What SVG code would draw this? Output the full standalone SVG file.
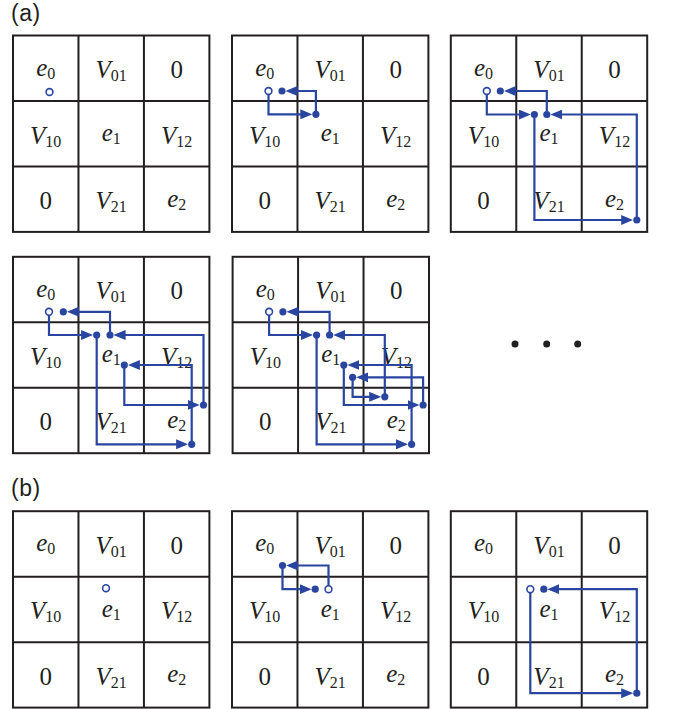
<svg xmlns="http://www.w3.org/2000/svg" xmlns:xlink="http://www.w3.org/1999/xlink" width="676" height="709" viewBox="0 0 676 709">
<style>
.frame{fill:#fff;stroke:#231f20;stroke-width:2}
.gl{stroke:#231f20;stroke-width:2;fill:none}
.lbl{font-family:"Liberation Serif",serif;font-size:25px;text-anchor:middle;fill:#231f20}
.it{font-style:italic}
.sub{font-size:16px;font-style:normal}
.cap{font-family:"Liberation Sans","Open Sans",sans-serif;font-size:23px;fill:#231f20;letter-spacing:0.5px}
.conn{stroke:#2945a0;stroke-width:2.2;fill:none;marker-end:url(#ah)}
.dot{fill:#2945a0}
.open{fill:#fff;stroke:#2945a0;stroke-width:1.6}
.ell{fill:#231f20}
</style>
<defs>
<marker id="ah" markerUnits="userSpaceOnUse" markerWidth="12" markerHeight="10" viewBox="0 0 12 10" refX="9" refY="5" orient="auto">
<path d="M0,0 L12,5 L0,10 z" fill="#2945a0"/>
</marker>
</defs>

<text class="cap" x="11" y="21">(a)</text>
<text class="cap" x="11" y="496">(b)</text>

<!-- Panel a1 -->
<g id="panel-a1" transform="translate(13,35.5)">
<g id="a1-cells">
<rect class="frame" x="0" y="0" width="196.4" height="196.4"/>
<path class="gl" d="M65.47,0V196.4M130.93,0V196.4M0,65.47H196.4M0,130.93H196.4"/>
<text class="lbl" x="32.7" y="40"><tspan class="it">e</tspan><tspan class="sub" dy="3">0</tspan></text>
<text class="lbl" x="98.2" y="42.5"><tspan class="it">V</tspan><tspan class="sub" dy="3">01</tspan></text>
<text class="lbl" x="163.7" y="42.5">0</text>
<text class="lbl" x="32.7" y="108"><tspan class="it">V</tspan><tspan class="sub" dy="3">10</tspan></text>
<text class="lbl" x="98.2" y="105.5"><tspan class="it">e</tspan><tspan class="sub" dy="3">1</tspan></text>
<text class="lbl" x="163.7" y="108"><tspan class="it">V</tspan><tspan class="sub" dy="3">12</tspan></text>
<text class="lbl" x="32.7" y="173.4">0</text>
<text class="lbl" x="98.2" y="173.4"><tspan class="it">V</tspan><tspan class="sub" dy="3">21</tspan></text>
<text class="lbl" x="163.7" y="171"><tspan class="it">e</tspan><tspan class="sub" dy="3">2</tspan></text>
</g>
<g id="a1-connectors">
<circle class="open" cx="36.5" cy="56.5" r="3.4"/>
</g>
</g>

<!-- Panel a2 -->
<g id="panel-a2" transform="translate(232,35.5)">
<g id="a2-cells">
<rect class="frame" x="0" y="0" width="196.4" height="196.4"/>
<path class="gl" d="M65.47,0V196.4M130.93,0V196.4M0,65.47H196.4M0,130.93H196.4"/>
<text class="lbl" x="32.7" y="40"><tspan class="it">e</tspan><tspan class="sub" dy="3">0</tspan></text>
<text class="lbl" x="98.2" y="42.5"><tspan class="it">V</tspan><tspan class="sub" dy="3">01</tspan></text>
<text class="lbl" x="163.7" y="42.5">0</text>
<text class="lbl" x="32.7" y="108"><tspan class="it">V</tspan><tspan class="sub" dy="3">10</tspan></text>
<text class="lbl" x="98.2" y="105.5"><tspan class="it">e</tspan><tspan class="sub" dy="3">1</tspan></text>
<text class="lbl" x="163.7" y="108"><tspan class="it">V</tspan><tspan class="sub" dy="3">12</tspan></text>
<text class="lbl" x="32.7" y="173.4">0</text>
<text class="lbl" x="98.2" y="173.4"><tspan class="it">V</tspan><tspan class="sub" dy="3">21</tspan></text>
<text class="lbl" x="163.7" y="171"><tspan class="it">e</tspan><tspan class="sub" dy="3">2</tspan></text>
</g>
<g id="a2-connectors">
<path class="conn" d="M36.5,55.5V78.8H77.3"/>
<path class="conn" d="M83.9,78.8V55.5H56.6"/>
<circle class="open" cx="36.5" cy="55.5" r="3.4"/>
<circle class="dot" cx="50" cy="55.5" r="3.6"/>
<circle class="dot" cx="83.9" cy="78.8" r="3.6"/>
</g>
</g>

<!-- Panel a3 -->
<g id="panel-a3" transform="translate(450.8,35.5)">
<g id="a3-cells">
<rect class="frame" x="0" y="0" width="196.4" height="196.4"/>
<path class="gl" d="M65.47,0V196.4M130.93,0V196.4M0,65.47H196.4M0,130.93H196.4"/>
<text class="lbl" x="32.7" y="40"><tspan class="it">e</tspan><tspan class="sub" dy="3">0</tspan></text>
<text class="lbl" x="98.2" y="42.5"><tspan class="it">V</tspan><tspan class="sub" dy="3">01</tspan></text>
<text class="lbl" x="163.7" y="42.5">0</text>
<text class="lbl" x="32.7" y="108"><tspan class="it">V</tspan><tspan class="sub" dy="3">10</tspan></text>
<text class="lbl" x="98.2" y="105.5"><tspan class="it">e</tspan><tspan class="sub" dy="3">1</tspan></text>
<text class="lbl" x="163.7" y="108"><tspan class="it">V</tspan><tspan class="sub" dy="3">12</tspan></text>
<text class="lbl" x="32.7" y="173.4">0</text>
<text class="lbl" x="98.2" y="173.4"><tspan class="it">V</tspan><tspan class="sub" dy="3">21</tspan></text>
<text class="lbl" x="163.7" y="171"><tspan class="it">e</tspan><tspan class="sub" dy="3">2</tspan></text>
</g>
<g id="a3-connectors">
<path class="conn" d="M36,55.5V79H77"/>
<path class="conn" d="M96,79V55.5H56.1"/>
<path class="conn" d="M83.6,79V184.5H179.4"/>
<path class="conn" d="M186,184.5V79H102.6"/>
<circle class="open" cx="36" cy="55.5" r="3.4"/>
<circle class="dot" cx="49.5" cy="55.5" r="3.6"/>
<circle class="dot" cx="83.6" cy="79" r="3.6"/>
<circle class="dot" cx="96" cy="79" r="3.6"/>
<circle class="dot" cx="186" cy="184.5" r="3.6"/>
</g>
</g>

<!-- Panel a4 -->
<g id="panel-a4" transform="translate(13,256.8)">
<g id="a4-cells">
<rect class="frame" x="0" y="0" width="196.4" height="196.4"/>
<path class="gl" d="M65.47,0V196.4M130.93,0V196.4M0,65.47H196.4M0,130.93H196.4"/>
<text class="lbl" x="32.7" y="40"><tspan class="it">e</tspan><tspan class="sub" dy="3">0</tspan></text>
<text class="lbl" x="98.2" y="42.5"><tspan class="it">V</tspan><tspan class="sub" dy="3">01</tspan></text>
<text class="lbl" x="163.7" y="42.5">0</text>
<text class="lbl" x="32.7" y="108"><tspan class="it">V</tspan><tspan class="sub" dy="3">10</tspan></text>
<text class="lbl" x="98.2" y="105.5"><tspan class="it">e</tspan><tspan class="sub" dy="3">1</tspan></text>
<text class="lbl" x="163.7" y="108"><tspan class="it">V</tspan><tspan class="sub" dy="3">12</tspan></text>
<text class="lbl" x="32.7" y="173.4">0</text>
<text class="lbl" x="98.2" y="173.4"><tspan class="it">V</tspan><tspan class="sub" dy="3">21</tspan></text>
<text class="lbl" x="163.7" y="171"><tspan class="it">e</tspan><tspan class="sub" dy="3">2</tspan></text>
</g>
<g id="a4-connectors">
<path class="conn" d="M36,55V78.2H77.1"/>
<path class="conn" d="M97,78.2V55H56.9"/>
<path class="conn" d="M83.7,78.2V187.5H172.1"/>
<path class="conn" d="M178.7,187.5V108.2H117.9"/>
<path class="conn" d="M111.3,108.2V148.2H183.7"/>
<path class="conn" d="M190.5,148.2V78.2H103.6"/>
<circle class="open" cx="36" cy="55" r="3.4"/>
<circle class="dot" cx="50.3" cy="55" r="3.6"/>
<circle class="dot" cx="83.7" cy="78.2" r="3.6"/>
<circle class="dot" cx="97" cy="78.2" r="3.6"/>
<circle class="dot" cx="111.3" cy="108.2" r="3.6"/>
<circle class="dot" cx="190.5" cy="148.2" r="3.6"/>
<circle class="dot" cx="178.7" cy="187.5" r="3.6"/>
</g>
</g>

<!-- Panel a5 -->
<g id="panel-a5" transform="translate(232.6,256.8)">
<g id="a5-cells">
<rect class="frame" x="0" y="0" width="196.4" height="196.4"/>
<path class="gl" d="M65.47,0V196.4M130.93,0V196.4M0,65.47H196.4M0,130.93H196.4"/>
<text class="lbl" x="32.7" y="40"><tspan class="it">e</tspan><tspan class="sub" dy="3">0</tspan></text>
<text class="lbl" x="98.2" y="42.5"><tspan class="it">V</tspan><tspan class="sub" dy="3">01</tspan></text>
<text class="lbl" x="163.7" y="42.5">0</text>
<text class="lbl" x="32.7" y="108"><tspan class="it">V</tspan><tspan class="sub" dy="3">10</tspan></text>
<text class="lbl" x="98.2" y="105.5"><tspan class="it">e</tspan><tspan class="sub" dy="3">1</tspan></text>
<text class="lbl" x="163.7" y="108"><tspan class="it">V</tspan><tspan class="sub" dy="3">12</tspan></text>
<text class="lbl" x="32.7" y="173.4">0</text>
<text class="lbl" x="98.2" y="173.4"><tspan class="it">V</tspan><tspan class="sub" dy="3">21</tspan></text>
<text class="lbl" x="163.7" y="171"><tspan class="it">e</tspan><tspan class="sub" dy="3">2</tspan></text>
</g>
<g id="a5-connectors">
<path class="conn" d="M36.5,55V78.2H77.4"/>
<path class="conn" d="M97,78.2V55H56.9"/>
<path class="conn" d="M84,78.2V187.5H172.4"/>
<path class="conn" d="M179,187.5V108.2H117.8"/>
<path class="conn" d="M111.2,108.2V148.2H183.9"/>
<path class="conn" d="M190.5,148.2V120.5H126.6"/>
<path class="conn" d="M120,120.5V140H145.6"/>
<path class="conn" d="M152.2,140V78.2H103.6"/>
<circle class="open" cx="36.5" cy="55" r="3.4"/>
<circle class="dot" cx="50.3" cy="55" r="3.6"/>
<circle class="dot" cx="84" cy="78.2" r="3.6"/>
<circle class="dot" cx="97" cy="78.2" r="3.6"/>
<circle class="dot" cx="111.2" cy="108.2" r="3.6"/>
<circle class="dot" cx="120" cy="120.5" r="3.6"/>
<circle class="dot" cx="152.2" cy="140" r="3.6"/>
<circle class="dot" cx="190.5" cy="148.2" r="3.6"/>
<circle class="dot" cx="179" cy="187.5" r="3.6"/>
</g>
</g>

<g id="ellipsis">
<circle class="ell" cx="515" cy="344" r="3.5"/>
<circle class="ell" cx="546.7" cy="344" r="3.5"/>
<circle class="ell" cx="577.7" cy="344" r="3.5"/>
</g>

<!-- Panel b1 -->
<g id="panel-b1" transform="translate(13,511.2)">
<g id="b1-cells">
<rect class="frame" x="0" y="0" width="196.4" height="196.4"/>
<path class="gl" d="M65.47,0V196.4M130.93,0V196.4M0,65.47H196.4M0,130.93H196.4"/>
<text class="lbl" x="32.7" y="40"><tspan class="it">e</tspan><tspan class="sub" dy="3">0</tspan></text>
<text class="lbl" x="98.2" y="42.5"><tspan class="it">V</tspan><tspan class="sub" dy="3">01</tspan></text>
<text class="lbl" x="163.7" y="42.5">0</text>
<text class="lbl" x="32.7" y="108"><tspan class="it">V</tspan><tspan class="sub" dy="3">10</tspan></text>
<text class="lbl" x="98.2" y="105.5"><tspan class="it">e</tspan><tspan class="sub" dy="3">1</tspan></text>
<text class="lbl" x="163.7" y="108"><tspan class="it">V</tspan><tspan class="sub" dy="3">12</tspan></text>
<text class="lbl" x="32.7" y="173.4">0</text>
<text class="lbl" x="98.2" y="173.4"><tspan class="it">V</tspan><tspan class="sub" dy="3">21</tspan></text>
<text class="lbl" x="163.7" y="171"><tspan class="it">e</tspan><tspan class="sub" dy="3">2</tspan></text>
</g>
<g id="b1-connectors">
<circle class="open" cx="93" cy="77" r="3.4"/>
</g>
</g>

<!-- Panel b2 -->
<g id="panel-b2" transform="translate(232,511.2)">
<g id="b2-cells">
<rect class="frame" x="0" y="0" width="196.4" height="196.4"/>
<path class="gl" d="M65.47,0V196.4M130.93,0V196.4M0,65.47H196.4M0,130.93H196.4"/>
<text class="lbl" x="32.7" y="40"><tspan class="it">e</tspan><tspan class="sub" dy="3">0</tspan></text>
<text class="lbl" x="98.2" y="42.5"><tspan class="it">V</tspan><tspan class="sub" dy="3">01</tspan></text>
<text class="lbl" x="163.7" y="42.5">0</text>
<text class="lbl" x="32.7" y="108"><tspan class="it">V</tspan><tspan class="sub" dy="3">10</tspan></text>
<text class="lbl" x="98.2" y="105.5"><tspan class="it">e</tspan><tspan class="sub" dy="3">1</tspan></text>
<text class="lbl" x="163.7" y="108"><tspan class="it">V</tspan><tspan class="sub" dy="3">12</tspan></text>
<text class="lbl" x="32.7" y="173.4">0</text>
<text class="lbl" x="98.2" y="173.4"><tspan class="it">V</tspan><tspan class="sub" dy="3">21</tspan></text>
<text class="lbl" x="163.7" y="171"><tspan class="it">e</tspan><tspan class="sub" dy="3">2</tspan></text>
</g>
<g id="b2-connectors">
<path class="conn" d="M96.5,78V54.3H57.1"/>
<path class="conn" d="M50.5,54.3V78H76.6"/>
<circle class="open" cx="96.5" cy="78" r="3.4"/>
<circle class="dot" cx="50.5" cy="54.3" r="3.6"/>
<circle class="dot" cx="83.2" cy="78" r="3.6"/>
</g>
</g>

<!-- Panel b3 -->
<g id="panel-b3" transform="translate(450.8,511.2)">
<g id="b3-cells">
<rect class="frame" x="0" y="0" width="196.4" height="196.4"/>
<path class="gl" d="M65.47,0V196.4M130.93,0V196.4M0,65.47H196.4M0,130.93H196.4"/>
<text class="lbl" x="32.7" y="40"><tspan class="it">e</tspan><tspan class="sub" dy="3">0</tspan></text>
<text class="lbl" x="98.2" y="42.5"><tspan class="it">V</tspan><tspan class="sub" dy="3">01</tspan></text>
<text class="lbl" x="163.7" y="42.5">0</text>
<text class="lbl" x="32.7" y="108"><tspan class="it">V</tspan><tspan class="sub" dy="3">10</tspan></text>
<text class="lbl" x="98.2" y="105.5"><tspan class="it">e</tspan><tspan class="sub" dy="3">1</tspan></text>
<text class="lbl" x="163.7" y="108"><tspan class="it">V</tspan><tspan class="sub" dy="3">12</tspan></text>
<text class="lbl" x="32.7" y="173.4">0</text>
<text class="lbl" x="98.2" y="173.4"><tspan class="it">V</tspan><tspan class="sub" dy="3">21</tspan></text>
<text class="lbl" x="163.7" y="171"><tspan class="it">e</tspan><tspan class="sub" dy="3">2</tspan></text>
</g>
<g id="b3-connectors">
<path class="conn" d="M79.5,78V182H179.4"/>
<path class="conn" d="M186,182V78H99.6"/>
<circle class="open" cx="79.5" cy="78" r="3.4"/>
<circle class="dot" cx="93" cy="78" r="3.6"/>
<circle class="dot" cx="186" cy="182" r="3.6"/>
</g>
</g>
</svg>
